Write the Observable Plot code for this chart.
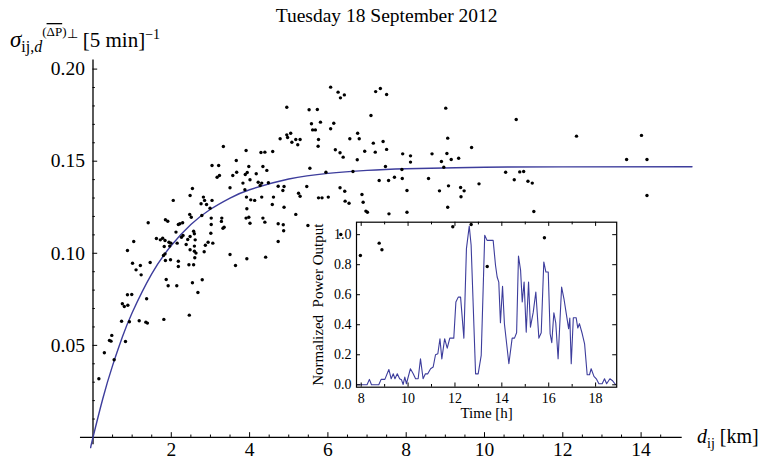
<!DOCTYPE html>
<html><head><meta charset="utf-8">
<script src="https://cdn.jsdelivr.net/npm/d3@7"></script>
<script src="https://cdn.jsdelivr.net/npm/@observablehq/plot@0.6"></script>
<style>
html,body{margin:0;padding:0;background:#fff;}
#chart{width:764px;height:462px;}
</style></head><body><div id="chart"></div>
<script>
// ---------- data ----------
const title = "Tuesday 18 September 2012";

// scatter: distance d_ij [km] vs sigma
const dist = [6.07,6.26,6.42,6.32,7.22,7.34,7.50,4.95,5.52,5.73,7.10,5.58,5.61,5.68,5.81,6.07,6.15,4.78,4.95,5.05,
4.97,5.08,5.18,5.23,5.29,5.76,5.75,6.19,6.31,6.39,6.56,6.76,6.80,6.94,7.16,7.21,7.41,7.50,7.91,8.11,
8.11,7.47,7.31,7.55,7.70,7.90,8.57,6.75,6.64,6.31,6.43,6.44,6.54,6.87,6.90,6.97,7.01,7.56,8.02,8.02,
5.76,5.85,6.01,5.95,5.54,5.46,5.25,5.29,5.18,5.49,4.59,4.39,4.29,3.91,3.33,3.66,3.98,4.17,4.44,4.34,
3.21,3.23,3.17,3.04,3.57,3.67,3.94,3.89,3.83,4.01,3.50,3.88,4.22,4.27,4.31,4.48,4.03,4.31,4.61,4.58,
4.73,4.88,4.85,4.88,3.93,3.98,3.91,4.01,4.34,4.39,4.73,4.87,4.73,4.41,3.93,3.50,2.54,2.48,2.82,2.85,
2.76,2.90,2.99,2.78,3.02,3.02,3.01,2.94,3.29,3.28,3.32,3.35,2.05,2.22,2.29,2.47,2.51,2.30,2.48,2.42,
2.57,2.59,2.61,2.59,2.59,2.63,2.48,2.38,2.12,2.15,1.85,1.91,1.84,1.78,1.62,1.72,1.94,1.99,1.82,1.96,
1.41,1.04,0.88,2.84,3.04,3.92,4.13,2.18,3.06,2.87,2.60,2.45,2.57,2.26,1.84,1.85,1.98,2.18,2.18,1.80,
1.46,1.01,1.21,1.10,1.23,1.87,1.92,2.14,2.54,2.79,2.68,1.37,0.88,0.99,0.75,0.80,0.89,0.73,0.93,1.18,
1.35,1.39,1.81,2.46,3.64,0.48,0.42,0.46,0.83,0.29,0.54,0.15,4.86,6.83,6.33,7.31,7.38,9.19,9.66,10.07,
11.53,9.01,10.81,12.35,14.01,13.63,14.15,14.15,7.89,8.66,8.90,8.96,9.04,9.15,9.06,9.34,9.67,8.85,9.08,9.39,
9.40,9.48,9.06,9.86,10.54,10.76,10.90,11.00,11.11,11.22,11.26];
const sigma = [.1902,.1875,.1860,.1844,.1878,.1895,.1862,.1793,.1779,.1781,.1748,.1703,.1670,.1670,.1712,.1676,.1706,.1622,.1643,.1652,
.1629,.1603,.1618,.1589,.1618,.1618,.1581,.1562,.1546,.1522,.1622,.1652,.1622,.1554,.1598,.1549,.1607,.1564,.1540,.1529,
.1495,.1471,.1395,.1395,.1413,.1406,.1406,.1508,.1444,.1356,.1337,.1283,.1272,.1319,.1277,.1229,.1223,.1214,.1223,.1341,
.1301,.1301,.1305,.1440,.1462,.1363,.1326,.1310,.1211,.1151,.1553,.1549,.1547,.1558,.1580,.1504,.1471,.1432,.1450,.1471,
.1477,.1422,.1413,.1477,.1422,.1440,.1439,.1428,.1381,.1399,.1356,.1345,.1386,.1368,.1381,.1383,.1290,.1305,.1305,.1265,
.1364,.1363,.1341,.1250,.1242,.1196,.1191,.1163,.1191,.1169,.1160,.1122,.1064,.0979,.0970,.0993,.1352,.1314,.1305,.1287,
.1269,.1265,.1245,.1205,.1191,.1156,.1109,.1060,.1191,.1173,.1136,.1142,.1287,.1160,.1166,.1211,.1196,.1097,.1091,.1075,
.1120,.1106,.1073,.1039,.1011,.1001,.1019,.1048,.1115,.1055,.1182,.1174,.1069,.1082,.1080,.1073,.1060,.1055,.1037,.1039,
.1166,.1064,.1015,.1008,.1287,.1305,.1287,.1156,.1055,.1044,.0976,.0938,.0938,.1087,.0997,.0961,.0965,.0957,.0928,.0988,
.0950,.0946,.0934,.0910,.0883,.0858,.0824,.0824,.0840,.0856,.0787,.0753,.0775,.0776,.0726,.0711,.0718,.0631,.0628,.0634,
.0626,.0621,.0641,.0664,.0934,.0554,.0527,.0523,.0521,.0460,.0422,.0319,.1155,.0988,.1102,.1055,.1019,.1144,.1156,.0928,
.1084,.1788,.1726,.1636,.1640,.1509,.1509,.1314,.1455,.1540,.1498,.1467,.1542,.1509,.1625,.1516,.1574,.1339,.1366,.1357,
.1307,.1339,.1250,.1377,.1440,.1399,.1442,.1444,.1391,.1381,.1227];

// fitted curve
const fitD = [-0.06,0,0.25,0.5,0.75,1,1.5,2,2.5,3,3.5,4,5,6,7,8,10,12,15.3];
const fitS = [-0.0055,0,0.0210,0.0390,0.0545,0.0677,0.0888,0.1042,0.1156,0.1239,0.1300,0.1345,0.1403,0.1434,0.1450,0.1459,0.1467,0.1469,0.1470];

// inset: normalized power output vs time
const hours = [7.8,8.25,8.35,8.44,8.75,8.85,9.01,9.18,9.28,9.37,9.44,9.54,9.64,9.72,9.79,9.86,9.93,10.10,10.22,10.32,
10.43,10.53,10.64,10.74,10.84,10.96,11.07,11.17,11.27,11.36,11.44,11.56,11.67,11.78,11.95,12.04,12.14,12.24,12.38,12.49,
12.61,12.69,12.88,12.99,13.12,13.27,13.37,13.63,13.73,13.80,13.87,13.94,14.03,14.11,14.30,14.44,14.54,14.63,14.71,14.80,
14.87,14.95,15.04,15.14,15.22,15.34,15.45,15.58,15.68,15.79,15.88,15.98,16.06,16.13,16.22,16.30,16.40,16.55,16.65,16.76,
16.85,16.90,16.96,17.05,17.17,17.24,17.31,17.43,17.53,17.64,17.74,17.81,17.93,18.03,18.14,18.28,18.38,18.47,18.61,18.71,18.85];
const power = [0,0,0.036,0,0,0.036,0.036,0.102,0.04,0.073,0.04,0.073,0.04,0.033,0.002,0.051,0.007,0.107,0.073,0.04,
0.04,0.173,0.04,0.073,0.073,0.107,0.118,0.2,0.207,0.307,0.173,0.307,0.244,0.311,0.311,0.551,0.584,0.584,0.311,0.907,
1.058,0.929,0.073,0.073,0.196,0.996,0.962,0.962,0.796,0.718,0.684,0.413,0.656,0.407,0.14,0.311,0.311,0.347,0.858,0.762,
0.551,0.684,0.351,0.684,0.384,0.484,0.618,0.311,0.347,0.818,0.751,0.751,0.34,0.28,0.48,0.413,0.173,0.651,0.573,0.462,
0.373,0.444,0.14,0.447,0.447,0.378,0.407,0.34,0.273,0.067,0.067,0.107,0.056,0.04,0.007,0.007,0.04,0.007,0.04,0.029,0.002];

// ticks
const xTicks = [2,4,6,8,10,12,14];
const xTickLabels = ["2","4","6","8","10","12","14"];
const yTicks = [0.05,0.10,0.15,0.20];
const yTickLabels = ["0.05","0.10","0.15","0.20"];
const insetXTicks = [8,10,12,14,16,18];
const insetXLabels = ["8","10","12","14","16","18"];
const insetYTicks = [0,0.2,0.4,0.6,0.8,1.0];
const insetYLabels = ["0.0","0.2","0.4","0.6","0.8","1.0"];

// ---------- drawing ----------
const blue = "#3d3d9c";
const serif = "'Liberation Serif','Times New Roman',serif";
const xMinor = d3.range(0.5, 15, 0.5).filter(v => v % 2 !== 0);
const yMinor = d3.range(0.01, 0.205, 0.01).filter(v => Math.abs(v*20 - Math.round(v*20)) > 1e-6);
const pts = dist.map((d, i) => ({d, s: sigma[i]}));
const fit = fitD.map((d, i) => ({d, s: fitS[i]}));

const main = Plot.plot({
  width: 764, height: 462,
  marginLeft: 80.75, marginRight: 72.5, marginTop: 59.4, marginBottom: 14,
  x: {domain: [-0.3, 15.3], axis: null},
  y: {domain: [-0.006, 0.205], axis: null},
  style: {background: "transparent", fontFamily: serif, fontSize: "19.5px", color: "black", overflow: "visible"},
  marks: [
    Plot.ruleY([0], {x1: -0.32, x2: 15.05, stroke: "black", strokeWidth: 1.3}),
    Plot.ruleX([0], {y1: -0.004, y2: 0.205, stroke: "black", strokeWidth: 1.3}),
    Plot.ruleX(xMinor, {x: d => d, y1: 0, y2: 0.0013, stroke: "black", strokeWidth: 1}),
    Plot.ruleX(xTicks, {x: d => d, y1: 0, y2: 0.0026, stroke: "black", strokeWidth: 1}),
    Plot.ruleY(yMinor, {y: d => d, x1: 0, x2: 0.06, stroke: "black", strokeWidth: 1}),
    Plot.ruleY(yTicks, {y: d => d, x1: 0, x2: 0.12, stroke: "black", strokeWidth: 1}),
    Plot.text(xTicks, {x: d => d, y: 0, dy: 5, lineAnchor: "top", text: (d, i) => xTickLabels[i], textAnchor: "middle"}),
    Plot.text(yTicks, {x: 0, y: d => d, dx: -8, text: (d, i) => yTickLabels[i], textAnchor: "end"}),
    Plot.line(fit, {x: "d", y: "s", stroke: blue, strokeWidth: 1.4, curve: "natural"}),
    Plot.dot(pts, {x: "d", y: "s", r: 1.7, fill: "black", stroke: "none"}),
    Plot.text([title], {frameAnchor: "top", dy: -44, lineAnchor: "middle", text: d => d, fontSize: 19.5})
  ]
});

const inset = Plot.plot({
  width: 340, height: 215,
  marginLeft: 66, marginRight: 13.8, marginTop: 16.7, marginBottom: 33.3,
  x: {domain: [7.8, 18.9], axis: null},
  y: {domain: [-0.016, 1.083], axis: null},
  style: {background: "transparent", fontFamily: serif, fontSize: "14px", color: "black", overflow: "visible"},
  marks: [
    Plot.line(hours.map((h, i) => ({h, p: power[i]})), {x: "h", y: "p", stroke: blue, strokeWidth: 1.1}),
    Plot.ruleX(d3.range(8, 19, 1), {x: d => d, y1: -0.016, y2: d => d % 2 ? 0.002 : 0.012, stroke: "black"}),
    Plot.ruleX(d3.range(8, 19, 1), {x: d => d, y1: 1.083, y2: d => d % 2 ? 1.065 : 1.055, stroke: "black"}),
    Plot.ruleY(insetYTicks, {y: d => d, x1: 7.8, x2: 7.97, stroke: "black"}),
    Plot.ruleY(insetYTicks, {y: d => d, x1: 18.9, x2: 18.73, stroke: "black"}),
    Plot.frame({stroke: "black", strokeWidth: 1.2}),
    Plot.text(insetXTicks, {x: d => d, y: -0.016, dy: 11, text: (d, i) => insetXLabels[i], textAnchor: "middle"}),
    Plot.text(insetYTicks, {x: 7.8, y: d => d, dx: -5, text: (d, i) => insetYLabels[i], textAnchor: "end"}),
    Plot.text(["Time [h]"], {frameAnchor: "bottom", lineAnchor: "middle", dy: 26, text: d => d, fontSize: 15}),
    Plot.text(["Normalized  Power Output"], {frameAnchor: "left", textAnchor: "middle", lineAnchor: "middle", rotate: -90, dx: -38, text: d => d, fontSize: 15})
  ]
});

const svg = d3.select(main);
// move the inset's content into a group of the main svg, below the scatter
const g = svg.insert("g", "svg > g")
  .attr("class", inset.getAttribute("class"))
  .attr("transform", "translate(290,205)")
  .attr("fill", "currentColor")
  .attr("font-family", serif)
  .attr("font-size", 14)
  .attr("text-anchor", "middle");
while (inset.firstChild) g.node().appendChild(inset.firstChild);

// y-axis label
const yl = svg.append("text").attr("x", 10).attr("y", 47).attr("font-size", 21).attr("fill", "black")
  .attr("font-family", serif).attr("text-anchor", "start").style("white-space", "pre");
yl.append("tspan").attr("font-style", "italic").attr("font-size", 23).text("σ");
yl.append("tspan").attr("font-size", 16).attr("dy", 5).text("ij,");
yl.append("tspan").attr("font-size", 16).attr("font-style", "italic").text("d");
yl.append("tspan").attr("font-size", 13).attr("dy", -16).text("(");
yl.append("tspan").attr("font-size", 13).attr("text-decoration", "overline").text("ΔP");
yl.append("tspan").attr("font-size", 13).text(")");
yl.append("tspan").attr("font-size", 13).attr("dy", 2).text("⊥");
yl.append("tspan").attr("font-size", 21).attr("dy", 9).text(" [5 min]");
yl.append("tspan").attr("font-size", 14).attr("dy", -8).text("−1");

// x-axis label
const xl = svg.append("text").attr("x", 697).attr("y", 443).attr("font-size", 20).attr("fill", "black")
  .attr("font-family", serif).attr("text-anchor", "start").style("white-space", "pre");
xl.append("tspan").attr("font-style", "italic").text("d");
xl.append("tspan").attr("font-size", 14).attr("dy", 5).text("ij");
xl.append("tspan").attr("dy", -5).text(" [km]");

document.getElementById("chart").appendChild(main);
</script>
</body></html>
